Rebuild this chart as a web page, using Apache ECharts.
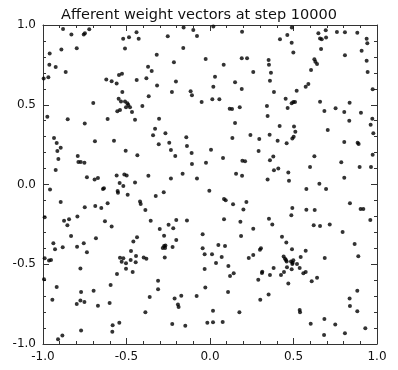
<!DOCTYPE html>
<html>
<head>
<meta charset="utf-8">
<script src="https://cdn.jsdelivr.net/npm/echarts@6/dist/echarts.min.js"></script>
<style>
  html, body { margin: 0; padding: 0; background: #fff; }
  #chart { width: 398px; height: 370px; }
</style>
</head>
<body>
<div id="chart"></div>
<script>
// Title and axis ticks
const titleText = 'Afferent weight vectors at step 10000';
const axisMin = -1.0;
const axisMax = 1.0;
const tickStep = 0.5;

// Weight vectors (x, y), grouped by quadrant
const pointsNW = [
  [-0.88,0.975],[-0.83,0.94],[-0.756,0.94],[-0.749,0.948],[-0.723,0.973],
  [-0.52,0.914],[-0.485,0.923],[-0.44,0.954],[-0.427,0.914],
  [-0.253,0.929],[-0.158,0.985],[-0.10,0.969],[-0.078,0.931],
  [-0.96,0.822],[-0.89,0.847],[-0.798,0.854],[-0.509,0.852],[-0.319,0.814],[-0.16,0.856],
  [-0.962,0.751],[-0.924,0.737],[-0.864,0.705],[-0.216,0.766],[-0.026,0.787],
  [-0.996,0.664],[-0.968,0.672],[-0.621,0.659],[-0.589,0.647],[-0.559,0.634],[-0.545,0.687],[-0.527,0.695],
  [-0.439,0.655],[-0.381,0.666],[-0.371,0.739],[-0.349,0.712],[-0.317,0.62],[-0.204,0.645],
  [-0.525,0.58],[-0.228,0.58],[-0.116,0.584],[-0.108,0.559],
  [-0.699,0.511],[-0.547,0.538],[-0.533,0.521],[-0.495,0.509],[-0.489,0.498],[-0.479,0.484],
  [-0.467,0.455],[-0.503,0.484],[-0.555,0.459],[-0.539,0.467],[-0.509,0.521],[-0.405,0.492],
  [-0.367,0.553],[-0.05,0.517],
  [-0.974,0.425],[-0.852,0.409],[-0.75,0.383],[-0.613,0.411],[-0.449,0.406],[-0.305,0.413],
  [-0.329,0.35],[-0.341,0.308],[-0.267,0.321],
  [-0.934,0.292],[-0.918,0.26],[-0.894,0.231],[-0.914,0.21],[-0.908,0.16],[-0.924,0.091],
  [-0.689,0.271],[-0.575,0.275],[-0.307,0.252],[-0.244,0.262],[-0.142,0.296],[-0.138,0.241],
  [-0.505,0.212],[-0.435,0.183],[-0.234,0.216],[-0.208,0.179],[-0.11,0.197],
  [-0.792,0.179],[-0.788,0.141],[-0.774,0.141],[-0.752,0.137],[-0.024,0.137],[-0.108,0.129],
  [-0.737,0.045],[-0.691,0.032],[-0.671,0.041],[-0.559,0.057],[-0.513,0.062],[-0.499,0.057],
  [-0.541,0.009],[-0.449,0.012],[-0.369,0.055],[-0.234,0.037],[-0.164,0.068],[-0.078,0.037]
];

const pointsNE = [
  [0.02,0.99],[0.192,0.958],[0.419,0.91],[0.463,0.937],[0.489,0.889],[0.499,0.827],[0.49,0.985],
  [0.649,0.948],[0.659,0.916],[0.669,0.91],[0.693,0.967],[0.695,0.921],[0.665,0.85],
  [0.76,0.956],[0.808,0.954],[0.882,0.952],[0.938,0.914],[0.942,0.885],[0.908,0.839],
  [0.808,0.81],[0.938,0.776],[0.944,0.705],
  [0.082,0.751],[0.19,0.791],[0.222,0.791],[0.259,0.705],[0.351,0.781],[0.353,0.751],
  [0.365,0.701],[0.359,0.651],[0.383,0.58],
  [0.605,0.718],[0.625,0.785],[0.631,0.77],[0.641,0.755],
  [0.03,0.676],[0.02,0.613],[0.15,0.641],[0.19,0.599],
  [0.014,0.534],[0.056,0.534],[0.453,0.538],[0.489,0.509],[0.499,0.517],[0.509,0.517],
  [0.465,0.48],[0.573,0.613],[0.589,0.63],[0.519,0.588],
  [0.118,0.475],[0.132,0.473],[0.178,0.484],[0.341,0.492],[0.345,0.429],[0.659,0.519],
  [0.685,0.461],[0.752,0.478],[0.804,0.455],[0.836,0.513],[0.904,0.45],[0.834,0.4],
  [0.974,0.597],[0.972,0.413],[0.962,0.375],[0.978,0.321],
  [0.15,0.386],[0.417,0.367],[0.503,0.363],[0.511,0.331],[0.493,0.289],[0.501,0.3],[0.705,0.342],
  [0.134,0.292],[0.242,0.31],[0.295,0.285],[0.357,0.312],[0.405,0.275],[0.459,0.258],
  [0.804,0.266],[0.884,0.262],[0.89,0.254],
  [0.006,0.218],[0.291,0.21],[0.078,0.166],[0.194,0.149],[0.21,0.145],[0.359,0.152],
  [0.379,0.175],[0.625,0.177],[0.786,0.139],[0.974,0.187],
  [0.383,0.089],[0.409,0.101],[0.469,0.076],[0.599,0.11],[0.896,0.11],[0.964,0.11],
  [0.156,0.068],[0.192,0.055],[0.345,0.032],[0.473,0.024],[0.655,0.005],[0.804,0.043]
];

const pointsSW = [
  [-0.958,-0.032],[-0.641,-0.028],[-0.635,-0.024],[-0.519,-0.009],[-0.553,-0.041],
  [-0.551,-0.051],[-0.493,-0.064],[-0.325,-0.072],[-0.277,-0.049],[-0.004,-0.039],
  [-0.894,-0.11],[-0.75,-0.143],[-0.687,-0.135],[-0.651,-0.147],[-0.613,-0.118],
  [-0.419,-0.106],[-0.415,-0.122],[-0.387,-0.16],
  [-0.99,-0.206],[-0.874,-0.227],[-0.844,-0.218],[-0.854,-0.256],[-0.794,-0.2],
  [-0.629,-0.231],[-0.589,-0.264],[-0.355,-0.227],
  [-0.832,-0.323],[-0.683,-0.337],[-0.301,-0.279],[-0.275,-0.321],[-0.248,-0.252],
  [-0.202,-0.223],[-0.22,-0.275],[-0.138,-0.225],[-0.044,-0.312],[-0.202,-0.348],
  [-0.938,-0.369],[-0.928,-0.406],[-0.882,-0.394],[-0.796,-0.39],[-0.756,-0.369],
  [-0.737,-0.425],[-0.459,-0.358],[-0.437,-0.331],[-0.275,-0.386],[-0.283,-0.398],
  [-0.269,-0.398],[-0.267,-0.383],[-0.224,-0.392],[-0.044,-0.4],[-0.032,-0.438],
  [-0.99,-0.463],[-0.964,-0.477],[-0.952,-0.473],[-0.539,-0.459],[-0.519,-0.463],
  [-0.529,-0.484],[-0.503,-0.494],[-0.475,-0.473],[-0.473,-0.417],[-0.443,-0.448],
  [-0.445,-0.488],[-0.397,-0.457],[-0.381,-0.465],[-0.271,-0.457],[-0.463,-0.549],[-0.503,-0.528],
  [-0.776,-0.526],[-0.557,-0.561],[-0.032,-0.53],
  [-0.994,-0.594],[-0.918,-0.643],[-0.595,-0.63],[-0.311,-0.603],[-0.311,-0.657],[-0.028,-0.645],
  [-0.944,-0.722],[-0.772,-0.674],[-0.697,-0.666],[-0.798,-0.749],[-0.776,-0.728],
  [-0.752,-0.737],[-0.671,-0.76],[-0.601,-0.743],[-0.361,-0.705],[-0.212,-0.714],
  [-0.172,-0.697],[-0.192,-0.753],[-0.188,-0.768],[-0.08,-0.699],
  [-0.387,-0.801],
  [-0.583,-0.883],[-0.585,-0.923],[-0.543,-0.866],[-0.226,-0.875],[-0.148,-0.885],[-0.016,-0.866],
  [-0.91,-0.971],[-0.884,-0.946],[-0.772,-0.916]
];

const pointsSE = [
  [0.577,-0.028],[0.695,-0.028],
  [0.084,-0.091],[0.094,-0.099],[0.138,-0.124],[0.218,-0.11],[0.2,-0.156],[0.493,-0.147],
  [0.487,-0.193],[0.577,-0.158],[0.627,-0.16],[0.838,-0.118],[0.902,-0.154],[0.918,-0.154],[0.96,-0.223],
  [0.084,-0.218],[0.182,-0.233],[0.353,-0.214],[0.373,-0.25],[0.259,-0.277],[0.621,-0.256],
  [0.659,-0.26],[0.717,-0.25],[0.794,-0.298],
  [0.186,-0.323],[0.431,-0.327],[0.457,-0.363],[0.491,-0.406],[0.573,-0.415],[0.305,-0.4],
  [0.299,-0.409],[0.866,-0.373],[0.888,-0.45],
  [0.012,-0.438],[0.05,-0.379],[0.09,-0.386],[0.07,-0.455],[0.036,-0.492],[0.11,-0.511],
  [0.12,-0.574],[0.142,-0.557],[0.232,-0.461],[0.259,-0.442],
  [0.441,-0.452],[0.449,-0.465],[0.455,-0.473],[0.459,-0.482],[0.485,-0.482],[0.495,-0.49],
  [0.499,-0.475],[0.493,-0.498],[0.521,-0.498],[0.543,-0.455],[0.461,-0.519],[0.489,-0.532],
  [0.537,-0.523],[0.559,-0.557],[0.573,-0.549],[0.443,-0.549],[0.425,-0.567],[0.381,-0.523],
  [0.359,-0.567],[0.313,-0.547],[0.311,-0.555],[0.289,-0.597],[0.609,-0.607],[0.641,-0.584],
  [0.687,-0.461],[0.469,-0.62],
  [0.108,-0.674],[0.301,-0.722],[0.351,-0.689],
  [0.018,-0.791],[0.176,-0.801],[0.537,-0.787],[0.539,-0.801],[0.836,-0.714],[0.838,-0.762],
  [0.882,-0.666],[0.882,-0.795],
  [0.018,-0.864],[0.076,-0.862],[0.603,-0.873],[0.685,-0.843],[0.75,-0.877],[0.93,-0.902],
  [0.683,-0.943],[0.808,-0.933]
];

const allPoints = pointsNW.concat(pointsNE, pointsSW, pointsSE);

const FONT = 'DejaVu Sans';
const INK = '#111';
const FRAME = '#333';

// One side of the framed box; the top and right sides repeat the ticks without labels
function boxAxis(position, showLabels) {
  return {
    type: 'value',
    position: position,
    min: axisMin,
    max: axisMax,
    interval: tickStep,
    axisLine: { show: true, onZero: false, lineStyle: { color: FRAME, width: 1 } },
    axisTick: { show: true, inside: true, length: 6, lineStyle: { color: FRAME, width: 1 } },
    minorTick: { show: true, splitNumber: 5, length: 3, lineStyle: { color: FRAME, width: 1 } },
    splitLine: { show: false },
    minorSplitLine: { show: false },
    axisLabel: {
      show: showLabels,
      fontFamily: FONT,
      fontSize: 12,
      color: INK,
      margin: 7,
      formatter: v => v.toFixed(1)
    }
  };
}

const chart = echarts.init(document.getElementById('chart'), null, { renderer: 'canvas' });

chart.setOption({
  animation: false,
  backgroundColor: '#fff',
  title: {
    text: titleText,
    left: 'center',
    top: 3,
    textStyle: { fontFamily: FONT, fontSize: 14.5, fontWeight: 'normal', color: INK }
  },
  grid: { left: 43, right: 21, top: 25, bottom: 26, containLabel: false },
  xAxis: [boxAxis('bottom', true), boxAxis('top', false)],
  yAxis: [boxAxis('left', true), boxAxis('right', false)],
  series: [{
    type: 'scatter',
    xAxisIndex: 0,
    yAxisIndex: 0,
    data: allPoints,
    symbol: 'circle',
    symbolSize: 4,
    itemStyle: { color: '#000' },
    silent: true
  }]
});
</script>
</body>
</html>
